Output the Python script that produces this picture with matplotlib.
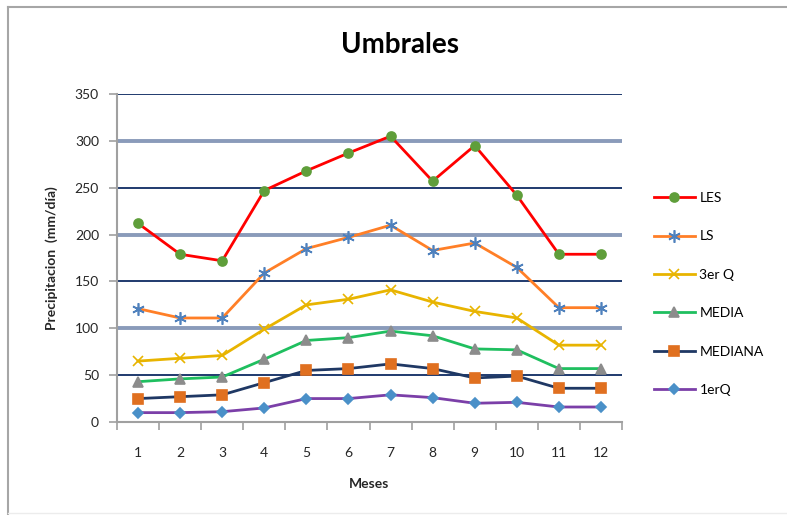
import matplotlib
matplotlib.use('Agg')
import matplotlib.pyplot as plt
from matplotlib.lines import Line2D
import numpy as np

plt.rcParams['font.family'] = ['Lato', 'DejaVu Sans']

# Umbrales de precipitacion por mes
meses = [1, 2, 3, 4, 5, 6, 7, 8, 9, 10, 11, 12]
les = [212, 179, 172, 247, 268, 287, 305, 257, 295, 242, 179, 179]
ls = [121, 111, 111, 159, 185, 197, 210, 183, 191, 165, 122, 122]
q3 = [65, 68, 71, 99, 125, 131, 141, 128, 118, 111, 82, 82]
media = [43, 46, 48, 67, 87, 90, 97, 92, 78, 77, 57, 57]
mediana = [25, 27, 29, 42, 55, 57, 62, 57, 47, 49, 36, 36]
q1 = [10, 10, 11, 15, 25, 25, 29, 26, 20, 21, 16, 16]

y_ticks = [0, 50, 100, 150, 200, 250, 300, 350]

fig = plt.figure(figsize=(7.87, 5.15), dpi=100)
ax = fig.add_axes([117/787, 1 - 422/515, 505/787, 328/515])

# lineas de division horizontales (alternan oscuras y claras)
for v in y_ticks[1:]:
    if v % 100 == 0:
        ax.axhline(v, color='#8a9bba', lw=2.8, zorder=1)
    else:
        ax.axhline(v, color='#1f3a6e', lw=1.4, zorder=1)

series = [
    (les, 'LES', '#ff0000', 'o', '#5f9e3a', 6.5),
    (ls, 'LS', '#ff7f27', (6, 2, 0), '#4f81bd', 9),
    (q3, '3er Q', '#e8b400', 'x', '#e8b400', 7.5),
    (media, 'MEDIA', '#1fbf5f', '^', '#8c8c8c', 6.5),
    (mediana, 'MEDIANA', '#1f3864', 's', '#e07020', 6.5),
    (q1, '1erQ', '#7b3fa8', 'D', '#4a90c8', 5),
]
for vals, nombre, col, mk, mcol, ms in series:
    ax.plot(meses, vals, color=col, lw=2.0, marker=mk, markersize=ms,
            markerfacecolor=mcol, markeredgecolor=mcol, markeredgewidth=1.2,
            label=nombre, zorder=3)

ax.set_xlim(0.5, 12.5)
ax.set_ylim(0, 350)
ax.set_yticks(y_ticks)
ax.set_xticks(meses)
ax.set_xticks(np.arange(0.5, 13, 1), minor=True)

for s in ['top', 'right']:
    ax.spines[s].set_visible(False)
for s in ['left', 'bottom']:
    ax.spines[s].set_color('#a0a0a0')
    ax.spines[s].set_linewidth(1.5)

ax.tick_params(axis='y', length=6, width=1.2, color='#a0a0a0', pad=7,
               labelsize=10, labelcolor='#262626')
ax.tick_params(axis='x', which='major', length=0, pad=18,
               labelsize=10, labelcolor='#262626')
ax.tick_params(axis='x', which='minor', length=6, width=1.2, color='#a0a0a0')

ax.set_xlabel('Meses', fontsize=10, fontweight='bold', color='#262626', labelpad=14)
ax.set_ylabel('Precipitacion  (mm/día)', fontsize=10, fontweight='bold',
              color='#262626', labelpad=12)

fig.text(400/787, 1 - 45/515, 'Umbrales', fontsize=20, fontweight='bold',
         ha='center', va='center', color='#000000')

ax.legend(loc='center left', bbox_to_anchor=(648/787, 1 - 294/515),
          bbox_transform=fig.transFigure, frameon=False, fontsize=10,
          handlelength=3.0, labelspacing=1.9, handletextpad=0.3,
          borderaxespad=0)

# marco del grafico
fig.add_artist(Line2D([8/787, 8/787], [0.002, 1 - 7/515], color='#a6a6a6', lw=1.5))
fig.add_artist(Line2D([8/787, 1.0], [1 - 7/515, 1 - 7/515], color='#a6a6a6', lw=1.5))
fig.add_artist(Line2D([8/787, 1.0], [1 - 513/515, 1 - 513/515], color='#ececec', lw=1.0))

fig.savefig('out.png', dpi=100)
